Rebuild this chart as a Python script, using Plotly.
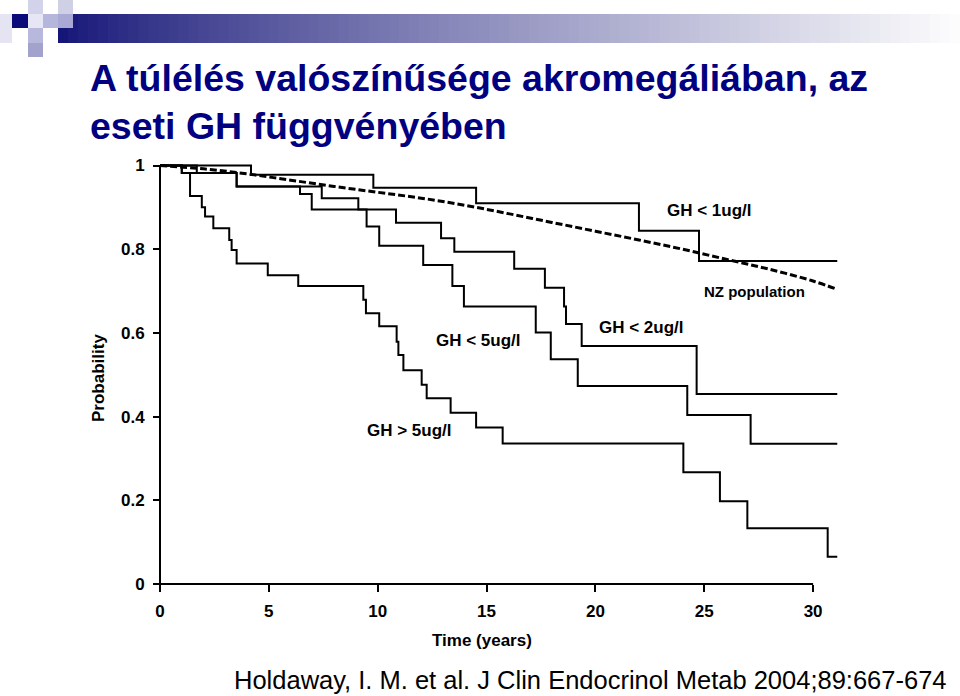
import plotly.graph_objects as go

# ---------------- data ----------------
time_gh_gt5 = [0, 1.00, 1.38, 1.92, 2.07, 2.45, 3.18, 3.29, 3.52, 4.95, 6.35, 9.34, 9.46,
               10.07, 10.87, 10.95, 11.18, 12.02, 12.25, 13.35, 14.52, 15.74, 24.04, 25.72,
               26.98, 30.67, 31.11]
surv_gh_gt5 = [1.0, 0.982, 0.927, 0.900, 0.878, 0.850, 0.822, 0.798, 0.766, 0.738, 0.712, 0.679,
               0.647, 0.616, 0.579, 0.547, 0.511, 0.476, 0.444, 0.409, 0.374, 0.336, 0.267,
               0.198, 0.133, 0.065, 0.065]

time_gh_lt5 = [0, 1.00, 3.52, 6.43, 6.97, 9.49, 10.07, 12.09, 13.43, 13.96, 17.26, 17.95,
               19.19, 24.22, 27.13, 31.11]
surv_gh_lt5 = [1.0, 0.982, 0.950, 0.932, 0.895, 0.854, 0.808, 0.762, 0.712, 0.663, 0.601,
               0.537, 0.473, 0.404, 0.335, 0.335]

time_gh_lt2 = [0, 1.69, 3.52, 7.43, 9.11, 10.84, 12.91, 13.52, 16.27, 17.68, 18.56, 18.65,
               19.37, 24.65, 31.11]
surv_gh_lt2 = [1.0, 0.982, 0.950, 0.922, 0.895, 0.863, 0.826, 0.794, 0.753, 0.708, 0.663,
               0.621, 0.569, 0.454, 0.454]

time_gh_lt1 = [0, 4.18, 9.80, 14.52, 22.00, 24.76, 31.11]
surv_gh_lt1 = [1.0, 0.978, 0.947, 0.910, 0.844, 0.772, 0.772]

time_nz = [0, 2, 4, 6, 8, 10, 12, 14, 16, 18, 20, 22, 24, 26, 28, 30, 31.1]
surv_nz = [1.0, 0.992, 0.980, 0.965, 0.950, 0.936, 0.922, 0.905, 0.885, 0.864, 0.843,
           0.822, 0.800, 0.776, 0.752, 0.724, 0.704]

x_ticks = [0, 5, 10, 15, 20, 25, 30]
x_tick_labels = ["0", "5", "10", "15", "20", "25", "30"]
y_ticks = [0, 0.2, 0.4, 0.6, 0.8, 1]
y_tick_labels = ["0", "0.2", "0.4", "0.6", "0.8", "1"]

title_line1 = "A túlélés valószínűsége akromegáliában, az"
title_line2 = "eseti GH függvényében"
citation = "Holdaway, I. M. et al. J Clin Endocrinol Metab 2004;89:667-674"

# ---------------- geometry ----------------
W, H = 960, 696
X0_PX, PX_PER_YEAR = 160.0, 21.77
Y0_PX, PX_PER_UNIT = 584.0, 418.5
XR = [-0.4, 31.5]
YR = [-0.03, 1.03]


def pxx(p):
    return p / W


def pyy(p):
    return 1 - p / H


x_dom = [pxx(X0_PX + XR[0] * PX_PER_YEAR), pxx(X0_PX + XR[1] * PX_PER_YEAR)]
y_dom = [pyy(Y0_PX - YR[0] * PX_PER_UNIT), pyy(Y0_PX - YR[1] * PX_PER_UNIT)]

FONT = "Liberation Sans, Arial, sans-serif"
NAVY = "#000080"

fig = go.Figure()

km_line = dict(color="black", width=2)
for t, s in [(time_gh_lt1, surv_gh_lt1), (time_gh_lt2, surv_gh_lt2),
             (time_gh_lt5, surv_gh_lt5), (time_gh_gt5, surv_gh_gt5)]:
    fig.add_trace(go.Scatter(x=t, y=s, mode="lines", line_shape="hv", line=km_line,
                             hoverinfo="skip"))

fig.add_trace(go.Scatter(x=time_nz, y=surv_nz, mode="lines", line_shape="spline",
                         line=dict(color="black", width=3, dash="7px,3px"), hoverinfo="skip"))

shapes = []
# axis lines
shapes.append(dict(type="line", xref="x", yref="y", x0=0, x1=30, y0=0, y1=0,
                   line=dict(color="black", width=2)))
shapes.append(dict(type="line", xref="x", yref="y", x0=0, x1=0, y0=0, y1=1,
                   line=dict(color="black", width=2)))

# decorative header: gradient bar + squares
bar_x0, bar_x1, bar_y0, bar_y1 = 58, 960, 14, 43
n = 90
c0 = (22, 22, 120)
c1 = (252, 252, 253)
for i in range(n):
    f = i / (n - 1)
    g = f ** 0.85
    col = tuple(int(round(c0[k] + (c1[k] - c0[k]) * g)) for k in range(3))
    xa = bar_x0 + (bar_x1 - bar_x0) * i / n
    xb = bar_x0 + (bar_x1 - bar_x0) * (i + 1) / n + 0.8
    shapes.append(dict(type="rect", xref="paper", yref="paper", x0=pxx(xa), x1=pxx(xb),
                       y0=pyy(bar_y1), y1=pyy(bar_y0), line=dict(width=0),
                       fillcolor="rgb(%d,%d,%d)" % col, layer="below"))

squares = [
    (0, 12, 14, 43, "#e4e4f2"),
    (12, 28, 14, 28, "#0a0a78"),
    (28, 43, 0, 14, "#d2d2ea"),
    (58, 73, 0, 14, "#cfcfe6"),
    (28, 43, 14, 28, "#e6e6f4"),
    (43, 58, 14, 28, "#b6b6dc"),
    (58, 73, 14, 28, "#a9a9d6"),
    (28, 43, 28, 43, "#b8b8dc"),
    (28, 43, 43, 57, "#a2a2cc"),
]
for x0, x1, y0, y1, col in squares:
    shapes.append(dict(type="rect", xref="paper", yref="paper", x0=pxx(x0), x1=pxx(x1),
                       y0=pyy(y1), y1=pyy(y0), line=dict(width=0), fillcolor=col,
                       layer="below"))

ann = []


def text(x, y, s, size, color="black", bold=True, xanchor="center", yanchor="middle",
         angle=0):
    ann.append(dict(xref="paper", yref="paper", x=pxx(x), y=pyy(y), text=s, showarrow=False,
                    xanchor=xanchor, yanchor=yanchor, textangle=angle,
                    font=dict(family=FONT, size=size, color=color,
                              weight="bold" if bold else "normal")))


text(88, 78, title_line1, 37.5, NAVY, xanchor="left")
text(88, 126, title_line2, 37.5, NAVY, xanchor="left")

text(709, 210, "GH &lt; 1ug/l", 17)
text(754, 291, "NZ population", 15)
text(641, 327, "GH &lt; 2ug/l", 17)
text(478, 340, "GH &lt; 5ug/l", 17)
text(409, 431, "GH &gt; 5ug/l", 17)

text(482, 640, "Time (years)", 17)
text(98, 378, "Probability", 17, angle=-90)

text(232, 680, citation, 25.5, bold=False, xanchor="left")

tickfont = dict(family=FONT, size=17, color="black", weight="bold")

fig.update_layout(
    width=W, height=H,
    margin=dict(l=0, r=0, t=0, b=0),
    paper_bgcolor="white", plot_bgcolor="white",
    showlegend=False,
    shapes=shapes,
    annotations=ann,
    xaxis=dict(domain=x_dom, range=XR, anchor="free", position=pyy(Y0_PX),
               showgrid=False, zeroline=False, showline=False,
               tickmode="array", tickvals=x_ticks, ticktext=x_tick_labels,
               ticks="outside", ticklen=7, tickwidth=2, tickcolor="black",
               tickfont=tickfont, ticklabelstandoff=5),
    yaxis=dict(domain=y_dom, range=YR, anchor="free", position=pxx(X0_PX),
               showgrid=False, zeroline=False, showline=False,
               tickmode="array", tickvals=y_ticks, ticktext=y_tick_labels,
               ticks="outside", ticklen=7, tickwidth=2, tickcolor="black",
               tickfont=tickfont, ticklabelstandoff=5),
)

fig.write_html("out.html")
